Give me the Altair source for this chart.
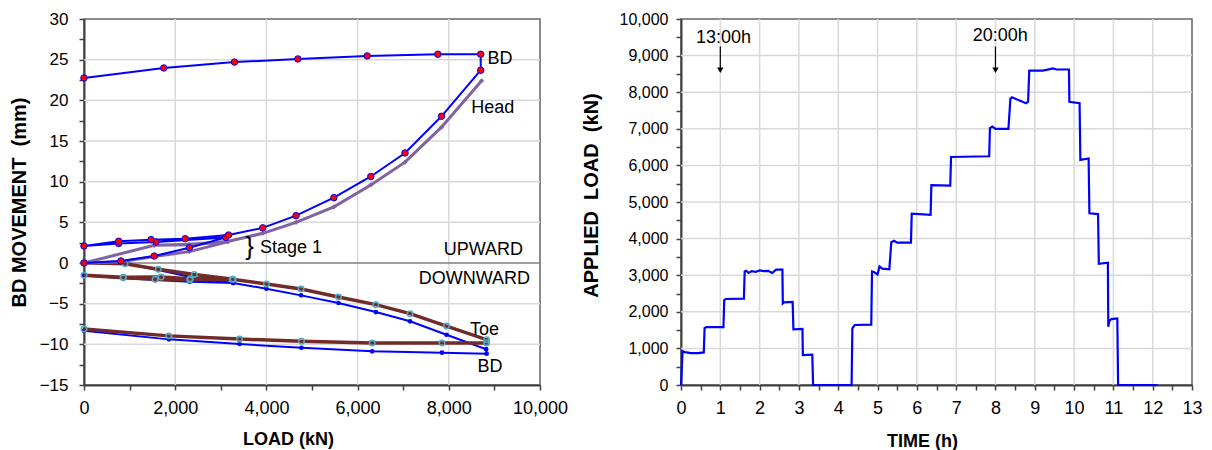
import altair as alt
import pandas as pd

FONT = "Liberation Sans, Arial, Helvetica, sans-serif"

# ---------------- Left panel: BD movement vs load ----------------
bd_up_load = [0, 810, 1540, 2310, 3110, 1580, 760, 0, 760, 1470, 2220, 3170, 3920, 4650, 5480,
              6290, 7040, 7840, 8700, 8700, 7760, 6210, 4690, 3300, 1750, 0]
bd_up_mov = [0, 0.25, 0.85, 1.88, 3.15, 2.58, 2.4, 2.09, 2.67, 2.87, 2.99, 3.44, 4.32, 5.82, 8.03,
             10.64, 13.53, 18.04, 23.70, 25.67, 25.67, 25.46, 25.09, 24.70, 23.98, 22.75]

head_load = [0, 810, 1540, 2310, 3150, 2310, 1540, 0, 1540, 2310, 3150, 3920, 4650, 5480, 6290,
             7040, 7840, 8720]
head_mov = [0, 0.15, 0.8, 1.4, 2.6, 2.25, 2.18, 0, 2.18, 2.3, 2.65, 3.65, 5.0, 6.9, 9.6,
            12.4, 16.7, 22.4]

toe_load = [0, 900, 1630, 2420, 3270, 2330, 1690, 860, 0, 860, 1560, 2320, 3250, 4000, 4760,
            5580, 6400, 7150, 7950, 8830, 8830, 7850, 6320, 4770, 3410, 1860, 0]
toe_mov = [0.04, -0.08, -0.78, -1.42, -2.0, -1.95, -1.72, -1.75, -1.52, -1.8, -2.0, -2.05, -2.0,
           -2.58, -3.2, -4.18, -5.12, -6.23, -7.75, -9.43, -9.84, -9.84, -9.84, -9.63, -9.35,
           -8.96, -8.12]

bd_lo_load = [0, 900, 1630, 2310, 3270, 2320, 1560, 860, 0, 860, 1560, 2320, 3270, 4000, 4760,
              5580, 6400, 7150, 7950, 8820, 8830, 7850, 6320, 4770, 3410, 1860, 0]
bd_lo_mov = [0, -0.05, -0.85, -1.7, -2.46, -2.2, -2.0, -1.85, -1.55, -1.85, -2.1, -2.3, -2.46,
             -3.16, -3.98, -4.92, -6.03, -7.17, -8.82, -10.6, -11.15, -11.03, -10.86, -10.42,
             -9.96, -9.39, -8.32]

load_ticks = [0, 1000, 2000, 3000, 4000, 5000, 6000, 7000, 8000, 9000, 10000]
load_grid = [2000, 4000, 6000, 8000]
mov_ticks = [-15, -12.5, -10, -7.5, -5, -2.5, 0, 2.5, 5, 7.5, 10, 12.5, 15, 17.5, 20, 22.5, 25, 27.5, 30]
mov_grid = [-10, -5, 5, 10, 15, 20, 25]

left_notes_l = ["BD", "Head", "Stage 1", "Toe", "BD"]
left_notes_l_x = [8850, 8490, 3860, 8465, 8630]
left_notes_l_y = [25.1, 19.0, 1.85, -8.24, -12.8]
left_notes_r = ["UPWARD", "DOWNWARD"]
left_notes_r_x = [9630, 9780]
left_notes_r_y = [1.6, -1.95]
brace_text = ["}"]
brace_x = [3630]
brace_y = [1.95]

# ---------------- Right panel: applied load vs time ----------------
time_h = [0.00, 0.04, 0.10, 0.25, 0.45, 0.58, 0.60, 0.65, 1.08, 1.10,
          1.14, 1.60, 1.62, 1.66, 1.72, 1.80, 1.90, 2.00, 2.10, 2.22,
          2.32, 2.42, 2.58, 2.59, 2.62, 2.84, 2.86, 3.09, 3.10, 3.34,
          3.36, 4.34, 4.36, 4.42, 4.84, 4.86, 4.92, 5.00, 5.05, 5.12,
          5.30, 5.35, 5.42, 5.50, 5.85, 5.87, 6.35, 6.37, 6.85, 6.87,
          7.84, 7.86, 7.92, 8.00, 8.33, 8.38, 8.42, 8.55, 8.78, 8.83,
          8.86, 9.20, 9.30, 9.46, 9.55, 9.87, 9.88, 10.14, 10.16, 10.37,
          10.39, 10.61, 10.63, 10.86, 10.87, 10.90, 10.95, 11.10, 11.12, 12.12]
load_kn = [0, 920, 900, 870, 870, 890, 1560, 1580, 1580, 2320,
           2350, 2360, 3100, 3120, 3060, 3110, 3090, 3130, 3110, 3120,
           3060, 3150, 3150, 2230, 2260, 2270, 1520, 1530, 820, 830,
           0, 0, 1550, 1640, 1650, 3100, 3080, 3020, 3240, 3180,
           3160, 3900, 3940, 3890, 3890, 4680, 4650, 5460, 5450, 6230,
           6250, 7020, 7060, 7000, 7000, 7820, 7860, 7800, 7700, 7740,
           8590, 8590, 8610, 8650, 8620, 8620, 7740, 7700, 6150, 6190,
           4690, 4670, 3310, 3340, 1590, 1760, 1800, 1820, 0, 0]

time_ticks = [i * 0.5 for i in range(27)]
time_grid = [1, 2, 3, 4, 5, 6, 7, 8, 9, 10, 11, 12]
kn_ticks = [i * 500 for i in range(21)]
kn_grid = [1000, 2000, 3000, 4000, 5000, 6000, 7000, 8000, 9000]

clock_labels = ["13:00h", "20:00h"]
clock_t = [1.08, 8.12]
clock_kn = [9480, 9535]
arrow_t = [1, 8]
arrow_top = [9250, 9250]
arrow_bot = [8660, 8660]
arrow_head = [8600, 8600]

# ---------------- styling helpers ----------------
common_axis = dict(labelFont=FONT, titleFont=FONT, labelColor="#000000", titleColor="#000000",
                   titleFontWeight="bold", domainColor="#404040", domainWidth=2,
                   tickColor="#404040", tickWidth=1.5, tickSize=5, grid=False,
                   labelOverlap=False, labelFlush=False, titleBaseline="middle")

LX = alt.X("load:Q", scale=alt.Scale(domain=[0, 10000], nice=False, zero=False),
           axis=alt.Axis(values=load_ticks,
                         labelExpr="datum.value % 2000 == 0 ? format(datum.value, ',') : ''",
                         title="LOAD (kN)", labelPadding=9, labelFontSize=18, titleFontSize=18,
                         titleX=204, titleY=54, **common_axis))
LY = alt.Y("mov:Q", scale=alt.Scale(domain=[-15, 30], nice=False, zero=False),
           axis=alt.Axis(values=mov_ticks,
                         labelExpr="datum.value % 5 == 0 ? format(datum.value, 'd') : ''",
                         title="BD MOVEMENT\u00a0 (mm)", labelPadding=11, labelFontSize=17,
                         titleFontSize=20, titleX=-65, titleY=183, **common_axis))


def seq(xs, ys, xn, yn):
    return pd.DataFrame({xn: xs, yn: ys, "i": list(range(len(xs)))})


BLUE = "#0000FF"
PURPLE = "#8064A2"
BROWN = "#722B28"
CYAN = "#4BACC6"
GRID = "#D9D9D9"

vgrid_l = alt.Chart(pd.DataFrame({"load": load_grid})).mark_rule(color=GRID, strokeWidth=1.5).encode(x=LX)
hgrid_l = alt.Chart(pd.DataFrame({"mov": mov_grid})).mark_rule(color=GRID, strokeWidth=1.5).encode(y=LY)
zero_l = alt.Chart(pd.DataFrame({"mov": [0]})).mark_rule(color="#7F7F7F", strokeWidth=1.5).encode(y=LY)

df_bdlo = seq(bd_lo_load, bd_lo_mov, "load", "mov")
df_toe = seq(toe_load, toe_mov, "load", "mov")
df_head = seq(head_load, head_mov, "load", "mov")
df_bdup = seq(bd_up_load, bd_up_mov, "load", "mov")

bdlo_line = alt.Chart(df_bdlo).mark_line(color=BLUE, strokeWidth=2).encode(x=LX, y=LY, order="i:Q")
bdlo_pts = alt.Chart(df_bdlo).mark_point(filled=True, color=BLUE, size=22, opacity=1).encode(x=LX, y=LY)
toe_line = alt.Chart(df_toe).mark_line(color=BROWN, strokeWidth=3.5).encode(x=LX, y=LY, order="i:Q")
toe_pts = alt.Chart(df_toe).mark_point(filled=False, color=CYAN, size=30, strokeWidth=1.5, opacity=1).encode(x=LX, y=LY)
head_line = alt.Chart(df_head).mark_line(color=PURPLE, strokeWidth=3).encode(x=LX, y=LY, order="i:Q")
head_pts = alt.Chart(df_head).mark_point(filled=True, shape="diamond", color=PURPLE, size=26, opacity=1).encode(x=LX, y=LY)
bdup_line = alt.Chart(df_bdup).mark_line(color=BLUE, strokeWidth=2).encode(x=LX, y=LY, order="i:Q")
bdup_pts = alt.Chart(df_bdup).mark_point(filled=True, fill="#FF0000", stroke=BLUE, strokeWidth=1,
                                          size=42, opacity=1).encode(x=LX, y=LY)

txt_l = alt.Chart(pd.DataFrame({"load": left_notes_l_x, "mov": left_notes_l_y, "label": left_notes_l})).mark_text(
    align="left", baseline="middle", font=FONT, fontSize=18, color="#000000").encode(x=LX, y=LY, text="label:N")
txt_r = alt.Chart(pd.DataFrame({"load": left_notes_r_x, "mov": left_notes_r_y, "label": left_notes_r})).mark_text(
    align="right", baseline="middle", font=FONT, fontSize=18, color="#000000").encode(x=LX, y=LY, text="label:N")
txt_brace = alt.Chart(pd.DataFrame({"load": brace_x, "mov": brace_y, "label": brace_text})).mark_text(
    align="center", baseline="middle", font=FONT, fontSize=26, color="#000000").encode(x=LX, y=LY, text="label:N")

left = alt.layer(vgrid_l, hgrid_l, zero_l, bdlo_line, bdlo_pts, toe_line, toe_pts,
                 head_line, head_pts, bdup_line, bdup_pts, txt_l, txt_r, txt_brace).properties(
    width=456, height=366)

# ---------------- right panel ----------------
RX = alt.X("t:Q", scale=alt.Scale(domain=[0, 13], nice=False, zero=False),
           axis=alt.Axis(values=time_ticks,
                         labelExpr="datum.value % 1 == 0 ? format(datum.value, 'd') : ''",
                         title="TIME (h)", labelPadding=9, labelFontSize=18, titleFontSize=18,
                         titleX=241, titleY=56, **common_axis))
RY = alt.Y("kn:Q", scale=alt.Scale(domain=[0, 10000], nice=False, zero=False),
           axis=alt.Axis(values=kn_ticks,
                         labelExpr="datum.value % 1000 == 0 ? format(datum.value, ',') : ''",
                         title="APPLIED\u00a0 LOAD\u00a0 (kN)", labelPadding=8, labelFontSize=16,
                         titleFontSize=20, titleX=-90, titleY=176, **common_axis))

vgrid_r = alt.Chart(pd.DataFrame({"t": time_grid})).mark_rule(color=GRID, strokeWidth=1.5).encode(x=RX)
hgrid_r = alt.Chart(pd.DataFrame({"kn": kn_grid})).mark_rule(color=GRID, strokeWidth=1.5).encode(y=RY)
load_line = alt.Chart(seq(time_h, load_kn, "t", "kn")).mark_line(color=BLUE, strokeWidth=2.2).encode(
    x=RX, y=RY, order="i:Q")
clock_txt = alt.Chart(pd.DataFrame({"t": clock_t, "kn": clock_kn, "label": clock_labels})).mark_text(
    align="center", baseline="middle", font=FONT, fontSize=18, color="#000000").encode(x=RX, y=RY, text="label:N")
arrow_shaft = alt.Chart(pd.DataFrame({"t": arrow_t, "kn": arrow_top, "kn2": arrow_bot})).mark_rule(
    color="#000000", strokeWidth=1.2).encode(x=RX, y=RY, y2="kn2:Q")
arrow_tip = alt.Chart(pd.DataFrame({"t": arrow_t, "kn": arrow_head})).mark_point(
    shape="triangle-down", filled=True, color="#000000", size=40, opacity=1).encode(x=RX, y=RY)

right = alt.layer(vgrid_r, hgrid_r, load_line, clock_txt, arrow_shaft, arrow_tip).properties(
    width=511, height=366)

chart = alt.hconcat(left, right, spacing=141, bounds="flush").configure_view(
    stroke="#666666", strokeWidth=1.5).properties(
    padding={"left": 0, "top": 1, "right": 0, "bottom": 0})

chart.save("out.html", embed_options={"renderer": "svg", "actions": False})
